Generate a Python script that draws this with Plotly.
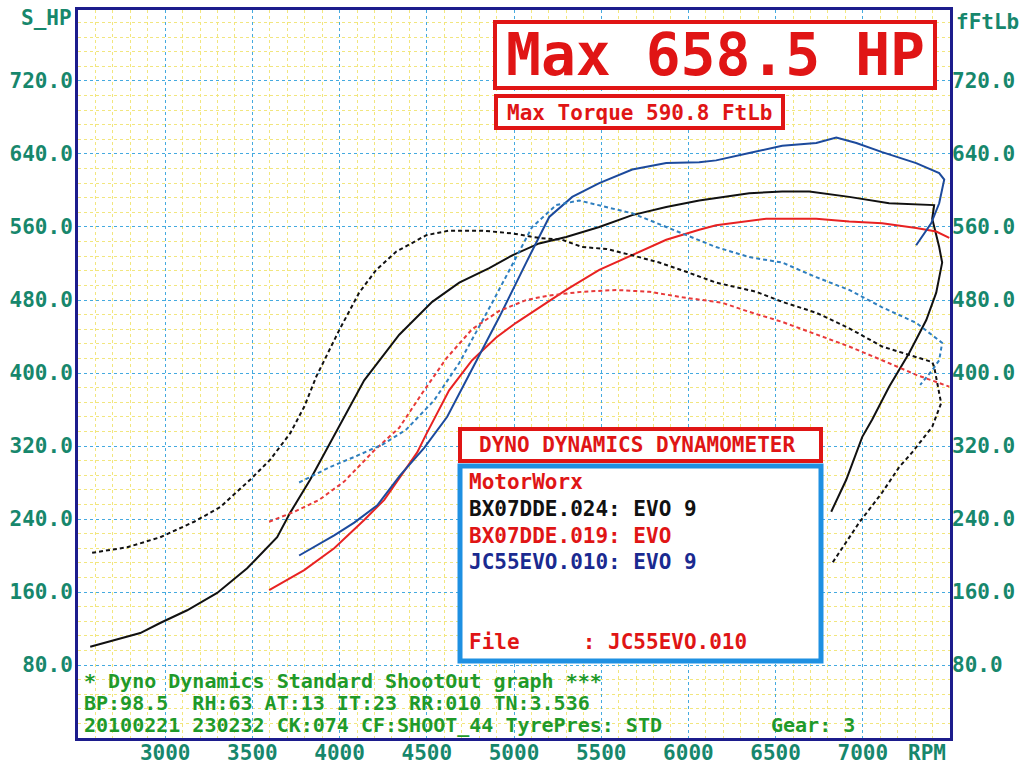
import plotly.graph_objects as go

# ---------------- data ----------------
x_ticks = [3000, 3500, 4000, 4500, 5000, 5500, 6000, 6500, 7000]
y_ticks = [80, 160, 240, 320, 400, 480, 560, 640, 720]
y_ticktext = ["80.0", "160.0", "240.0", "320.0", "400.0", "480.0", "560.0", "640.0", "720.0"]

# BX07DDE.024 (black)
black_hp_rpm = [2570, 2857, 2971, 3126, 3298, 3470, 3642, 3717, 3831, 3946, 4026, 4141, 4342, 4531, 4686,
                4858, 4990, 5144, 5299, 5489, 5678, 5873, 6062, 6349, 6538, 6693, 6922, 7151, 7409, 7398,
                7438, 7455, 7421, 7364, 7266, 7151, 7054, 6997, 6905, 6819]
black_hp = [100, 115, 126, 140, 159, 186, 220, 247, 283, 323, 352, 392, 442, 478, 499,
            515, 529, 542, 549, 560, 573, 582, 589, 597, 599, 599, 593, 586, 584, 569,
            538, 521, 488, 458, 422, 385, 349, 330, 283, 248]
black_tq_rpm = [2581, 2782, 2971, 3166, 3315, 3487, 3602, 3717, 3797, 3866, 3998, 4112, 4210, 4325, 4497,
                4628, 4818, 4990, 5144, 5276, 5391, 5529, 5678, 5833, 5987, 6159, 6389, 6538, 6733, 6922,
                7111, 7398, 7409, 7449, 7398, 7341, 7283, 7209, 7111, 6979, 6819]
black_tq = [203, 209, 220, 237, 253, 283, 305, 334, 363, 396, 447, 488, 513, 533, 551,
            556, 556, 553, 548, 546, 538, 536, 529, 521, 511, 499, 489, 478, 466, 449,
            429, 412, 407, 367, 341, 327, 313, 297, 269, 236, 190]

# BX07DDE.019 (red)
red_hp_rpm = [3596, 3797, 3969, 4141, 4256, 4348, 4445, 4497, 4628, 4760, 4898, 5012, 5144, 5299, 5489,
              5678, 5873, 6062, 6159, 6446, 6733, 6922, 7111, 7306, 7421, 7496]
red_hp = [162, 184, 208, 239, 261, 286, 313, 333, 381, 414, 439, 455, 472, 491, 513,
          529, 546, 557, 562, 569, 569, 566, 564, 559, 555, 548]
red_tq_rpm = [3596, 3740, 3883, 4026, 4198, 4342, 4474, 4612, 4760, 4915, 5070, 5202, 5391, 5586, 5776,
              5965, 6193, 6349, 6538, 6733, 6922, 7111, 7306, 7496]
red_tq = [237, 248, 261, 281, 315, 340, 378, 416, 448, 468, 480, 485, 489, 491, 489,
          483, 477, 467, 456, 442, 429, 414, 398, 385]

# JC55EVO.010 (blue)
blue_hp_rpm = [3768, 3969, 4084, 4216, 4348, 4485, 4617, 4726, 4915, 5070, 5202, 5334, 5489, 5678, 5873,
               6062, 6159, 6349, 6538, 6733, 6848, 6963, 7111, 7306, 7438, 7467, 7438, 7392, 7341, 7306]
blue_hp = [200, 222, 236, 255, 288, 318, 352, 392, 461, 521, 571, 593, 608, 623, 630,
           631, 633, 641, 649, 652, 658, 652, 642, 630, 619, 612, 586, 564, 549, 540]
blue_tq_rpm = [3768, 3946, 4084, 4250, 4382, 4542, 4686, 4875, 5104, 5242, 5374, 5489, 5678, 5873, 6062,
               6159, 6349, 6538, 6733, 6922, 7111, 7306, 7455, 7438, 7398, 7329]
blue_tq = [280, 297, 308, 322, 338, 370, 411, 477, 560, 584, 589, 584, 575, 560, 546,
           538, 527, 521, 505, 491, 472, 455, 433, 414, 403, 387]

# ---------------- styling ----------------
W, H = 1023, 768
L, R, T, B = 78, 950, 10, 738          # plot area in pixels
MONO = "DejaVu Sans Mono"
TEAL = "#17876c"
GREEN = "#1f9a2a"
RED = "#e01515"
NAVY = "#1c1c8c"
BLUE_GRID = "#45aadf"
YEL_GRID = "#f2e67e"


def px(x, y):
    """pixel -> paper coordinates (for decoration only)"""
    return (x - L) / (R - L), (B - y) / (B - T)


fig = go.Figure()

fig.add_trace(go.Scatter(x=black_hp_rpm, y=black_hp, mode="lines", line=dict(color="#111111", width=2),
                         name="BX07DDE.024 HP"))
fig.add_trace(go.Scatter(x=red_hp_rpm, y=red_hp, mode="lines", line=dict(color="#e82222", width=2),
                         name="BX07DDE.019 HP"))
fig.add_trace(go.Scatter(x=blue_hp_rpm, y=blue_hp, mode="lines", line=dict(color="#1c4a9c", width=2),
                         name="JC55EVO.010 HP"))
fig.add_trace(go.Scatter(x=black_tq_rpm, y=black_tq, mode="lines", yaxis="y2",
                         line=dict(color="#111111", width=2, dash="4px,3px"), name="BX07DDE.024 TQ"))
fig.add_trace(go.Scatter(x=red_tq_rpm, y=red_tq, mode="lines", yaxis="y2",
                         line=dict(color="#e83a3a", width=2, dash="4px,3px"), name="BX07DDE.019 TQ"))
fig.add_trace(go.Scatter(x=blue_tq_rpm, y=blue_tq, mode="lines", yaxis="y2",
                         line=dict(color="#2f7fbf", width=2, dash="4px,3px"), name="JC55EVO.010 TQ"))

YMAX = 797.8
tickfont = dict(family=MONO, size=21, color=TEAL, weight="bold")

fig.update_layout(
    width=W, height=H, autosize=False,
    margin=dict(l=L, r=W - R, t=T, b=H - B, pad=0, autoexpand=False),
    paper_bgcolor="white", plot_bgcolor="white",
    showlegend=False,
    xaxis=dict(range=[2500, 7500], tickvals=x_ticks, ticktext=[str(v) for v in x_ticks],
               showgrid=True, gridcolor=BLUE_GRID, griddash="dot", gridwidth=1,
               minor=dict(dtick=100, tick0=2500, showgrid=True, gridcolor=YEL_GRID, griddash="dot", gridwidth=1.2),
               zeroline=False, ticks="", tickfont=tickfont, ticklabelstandoff=-6, automargin=False,
               showline=True, mirror=True, linecolor=NAVY, linewidth=3),
    yaxis=dict(range=[0, YMAX], tickvals=y_ticks, ticktext=y_ticktext,
               showgrid=True, gridcolor=BLUE_GRID, griddash="dot", gridwidth=1,
               minor=dict(dtick=16, tick0=0, showgrid=True, gridcolor=YEL_GRID, griddash="dot", gridwidth=1.2),
               zeroline=False, ticks="", tickfont=tickfont, ticklabelstandoff=-2, automargin=False,
               showline=True, mirror=True, linecolor=NAVY, linewidth=3),
    yaxis2=dict(range=[0, YMAX], overlaying="y", side="right", tickvals=y_ticks, ticktext=y_ticktext,
                showgrid=False, zeroline=False, ticks="", tickfont=tickfont, ticklabelstandoff=1,
                automargin=False, showline=False),
)

shapes = []
# white text area below the 80 line
shapes.append(dict(type="rect", xref="paper", yref="y", x0=0, x1=1, y0=0, y1=78.5,
                   fillcolor="white", line=dict(width=0), layer="between"))


def box(x0, y0, x1, y1, color, width):
    a0 = px(x0, y1)
    a1 = px(x1, y0)
    shapes.append(dict(type="rect", xref="paper", yref="paper", x0=a0[0], y0=a0[1], x1=a1[0], y1=a1[1],
                       fillcolor="white", line=dict(color=color, width=width), layer="above"))


box(495, 22, 935, 88, RED, 4)          # Max HP
box(496, 96, 783, 128, RED, 4)         # Max torque
box(460, 429, 821, 461, RED, 4)        # Dyno dynamics title
box(460, 466, 821, 661, "#1e90e2", 5)  # legend box
fig.update_layout(shapes=shapes)

ann = []


def text(x, y, s, color, size, anchor="left", bold=True, family=MONO):
    p = px(x, y)
    ann.append(dict(xref="paper", yref="paper", x=p[0], y=p[1], text=("<b>%s</b>" % s) if bold else s,
                    showarrow=False, xanchor=anchor, yanchor="middle", borderpad=0,
                    font=dict(family=family, size=size, color=color)))


text(715, 55, "Max 658.5 HP", RED, 58, anchor="center")
text(640, 113, "Max Torque 590.8 FtLb", RED, 21, anchor="center")
text(637, 445, "DYNO DYNAMICS DYNAMOMETER", RED, 21, anchor="center")
text(468, 482, "MotorWorx", RED, 21)
text(468, 509, "BX07DDE.024: EVO 9", "#111111", 21)
text(468, 536, "BX07DDE.019: EVO", RED, 21)
text(468, 562, "JC55EVO.010: EVO 9", "#1a2a90", 21)
text(468, 642, "File     : JC55EVO.010", RED, 21)

text(83, 681, "* Dyno Dynamics Standard ShootOut graph ***", GREEN, 20)
text(83, 703, "BP:98.5  RH:63 AT:13 IT:23 RR:010 TN:3.536", GREEN, 20)
text(83, 725, "20100221 230232 CK:074 CF:SHOOT_44 TyrePres: STD", GREEN, 20)
text(770, 725, "Gear: 3", GREEN, 20)

text(73, 18, "S_HP", TEAL, 21, anchor="right")
text(955, 22, "fFtLb", TEAL, 21)
text(907, 753, "RPM", TEAL, 21)

fig.update_layout(annotations=ann)

fig.write_html("out.html", config={"displayModeBar": False},
               post_script="document.body.style.margin='0';")
